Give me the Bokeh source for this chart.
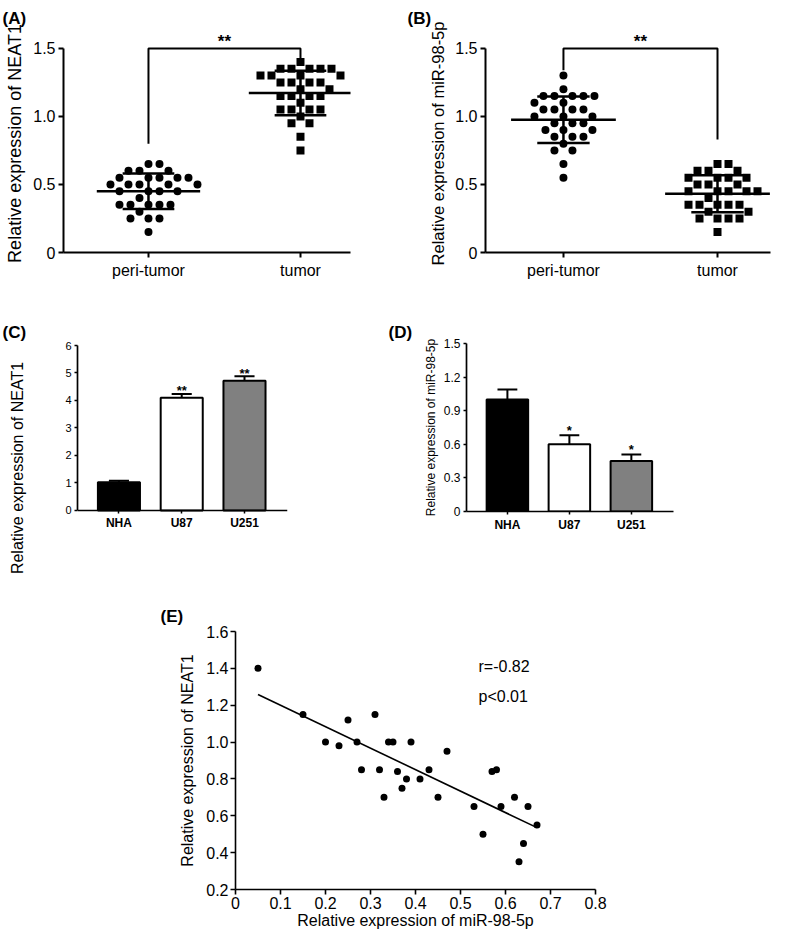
import numpy as np
from bokeh.plotting import figure
from bokeh.layouts import column, row
from bokeh.models import FixedTicker, Range1d, Title
from bokeh.core.properties import value
from bokeh.embed import file_html
from bokeh.resources import INLINE

FONT = "Liberation Sans"

# ---------------- data ----------------
groups_ab = ["peri-tumor", "tumor"]
a_peri = [0.65, 0.65, 0.60, 0.60, 0.60, 0.55, 0.55, 0.55, 0.55, 0.55,
          0.50, 0.50, 0.50, 0.50, 0.50, 0.45, 0.45, 0.45, 0.45, 0.40,
          0.35, 0.35, 0.35, 0.35, 0.35, 0.30, 0.25, 0.25, 0.25, 0.15]
a_tumor = [1.40, 1.35, 1.35, 1.35, 1.35, 1.35, 1.30, 1.30, 1.30, 1.30,
           1.25, 1.25, 1.25, 1.25, 1.20, 1.20, 1.15, 1.15, 1.15, 1.15,
           1.10, 1.05, 1.05, 1.05, 1.05, 1.00, 0.95, 0.95, 0.85, 0.75]
a_bracket = [0.80, 1.50, 1.42]
b_peri = [1.30, 1.20, 1.15, 1.15, 1.15, 1.15, 1.15, 1.10, 1.10, 1.05,
          1.05, 1.05, 1.05, 1.00, 1.00, 1.00, 0.95, 0.95, 0.95, 0.90,
          0.90, 0.90, 0.85, 0.85, 0.85, 0.80, 0.75, 0.75, 0.65, 0.55]
b_tumor = [0.65, 0.65, 0.60, 0.60, 0.60, 0.55, 0.55, 0.55, 0.55, 0.50,
           0.50, 0.50, 0.45, 0.45, 0.45, 0.45, 0.45, 0.40, 0.35, 0.35,
           0.35, 0.35, 0.35, 0.30, 0.30, 0.25, 0.25, 0.25, 0.25, 0.15]
b_bracket = [1.34, 1.50, 0.83]
sig_ab = "**"
ab_yticks = [0, 0.5, 1.0, 1.5]
ab_ytick_labels = ["0", "0.5", "1.0", "1.5"]

lines_cd = ["NHA", "U87", "U251"]
c_mean = [1.03, 4.10, 4.72]
c_err = [0.05, 0.14, 0.16]
c_sig = ["", "**", "**"]
c_yticks = [0, 1, 2, 3, 4, 5, 6]
d_mean = [1.00, 0.60, 0.45]
d_err = [0.09, 0.08, 0.06]
d_sig = ["", "*", "*"]
d_yticks = [0, 0.3, 0.6, 0.9, 1.2, 1.5]
d_ytick_labels = ["0", "0.3", "0.6", "0.9", "1.2", "1.5"]
bar_colors = ["#000000", "#ffffff", "#808080"]

e_mir = [0.05, 0.15, 0.20, 0.23, 0.25, 0.27, 0.28, 0.31, 0.32, 0.33,
         0.34, 0.35, 0.36, 0.37, 0.38, 0.39, 0.41, 0.43, 0.45, 0.47,
         0.53, 0.55, 0.57, 0.58, 0.59, 0.62, 0.63, 0.64, 0.65, 0.67]
e_neat = [1.40, 1.15, 1.00, 0.98, 1.12, 1.00, 0.85, 1.15, 0.85, 0.70,
          1.00, 1.00, 0.84, 0.75, 0.80, 1.00, 0.80, 0.85, 0.70, 0.95,
          0.65, 0.50, 0.84, 0.85, 0.65, 0.70, 0.35, 0.45, 0.65, 0.55]
e_xticks = [0, 0.1, 0.2, 0.3, 0.4, 0.5, 0.6, 0.7, 0.8]
e_xtick_labels = ["0", "0.1", "0.2", "0.3", "0.4", "0.5", "0.6", "0.7", "0.8"]
e_yticks = [0.2, 0.4, 0.6, 0.8, 1.0, 1.2, 1.4, 1.6]
e_ytick_labels = ["0.2", "0.4", "0.6", "0.8", "1.0", "1.2", "1.4", "1.6"]
e_stats = ["r=-0.82", "p<0.01"]


# ---------------- helpers ----------------
def base_fig(w, h, xr, yr, ml, mr, mt, mb):
    p = figure(width=w, height=h, x_range=Range1d(*xr), y_range=Range1d(*yr),
               output_backend="svg", toolbar_location=None,
               min_border_left=ml, min_border_right=mr,
               min_border_top=mt, min_border_bottom=mb)
    p.frame_align = False
    p.grid.grid_line_color = None
    p.outline_line_color = None
    p.background_fill_color = "white"
    p.border_fill_color = "white"
    p.axis.minor_tick_line_color = None
    p.axis.major_tick_in = 0
    p.axis.axis_line_color = "black"
    p.axis.major_tick_line_color = "black"
    p.axis.major_label_text_color = "black"
    p.axis.axis_label_text_color = "black"
    p.axis.major_label_text_font = FONT
    p.axis.axis_label_text_font = FONT
    p.axis.axis_label_text_font_style = "normal"
    return p


def panel_title(p, txt, offset, standoff):
    p.add_layout(Title(text=txt, align="left", offset=offset, standoff=standoff,
                       text_font=FONT, text_font_style="bold", text_font_size="17px",
                       text_color="black"), "above")


def swarm(vals, center, px_x, px_y, dmin):
    """Beeswarm layout: nearest non-overlapping horizontal offset (in pixels)."""
    placed = []
    xs = []
    for v in vals:
        yp = v * px_y
        chosen = 0.0
        for k in range(0, 400):
            found = False
            for sgn in ((1,) if k == 0 else (1, -1)):
                off = sgn * k * 0.5
                if all((off - qx) ** 2 + (yp - qy) ** 2 >= dmin ** 2 for qx, qy in placed):
                    chosen = off
                    found = True
                    break
            if found:
                break
        placed.append((chosen, yp))
        xs.append(center + chosen / px_x)
    return xs


def dot_panel(w, xr, ml, mr, peri, tumor, bracket, ylabel, ylabel_size, letter, toff):
    p = base_fig(w, 300, xr, (0, 1.602), ml, mr, 32, 48)
    px_x = (w - ml - mr) / (xr[1] - xr[0])
    px_y = 220 / 1.602
    p.scatter(swarm(peri, 0, px_x, px_y, 11), peri, marker="circle", size=8,
              fill_color="black", line_color=None)
    p.scatter(swarm(tumor, 1, px_x, px_y, 11), tumor, marker="square", size=8,
              fill_color="black", line_color=None)
    for c, vals in enumerate([peri, tumor]):
        m = float(np.mean(vals))
        sd = float(np.std(vals, ddof=1))
        p.segment(x0=[c - 0.34, c - 0.17, c - 0.17, c], y0=[m, m + sd, m - sd, m - sd],
                  x1=[c + 0.34, c + 0.17, c + 0.17, c], y1=[m, m + sd, m - sd, m + sd],
                  line_color="black", line_width=2.5)
    p.line(x=[0, 0, 1, 1], y=[bracket[0], bracket[1], bracket[1], bracket[2]],
           line_color="black", line_width=2)
    p.text(x=[0.5], y=[bracket[1]], text=[sig_ab], text_align="center",
           text_baseline="middle", text_font=value(FONT), text_font_style="bold",
           text_font_size="17px", text_color="black", y_offset=-7)
    p.xaxis.ticker = FixedTicker(ticks=[0, 1])
    p.xaxis.major_label_overrides = {i: g for i, g in enumerate(groups_ab)}
    p.yaxis.ticker = FixedTicker(ticks=ab_yticks)
    p.yaxis.major_label_overrides = dict(zip(ab_yticks, ab_ytick_labels))
    p.yaxis.bounds = (0, 1.5)
    p.axis.axis_line_width = 2
    p.axis.major_tick_line_width = 2
    p.axis.major_tick_out = 5
    p.axis.major_label_text_font_size = "16px"
    p.xaxis.major_label_standoff = 4
    p.yaxis.major_label_standoff = 3
    p.yaxis.axis_label = ylabel
    p.yaxis.axis_label_text_font_size = ylabel_size
    p.yaxis.axis_label_standoff = 5
    panel_title(p, letter, toff, 13)
    return p


# ---------------- panel A / B ----------------
pA = dot_panel(390, (-0.559, 1.329), 63, 40, a_peri, a_tumor, a_bracket,
               "Relative expression of NEAT1", "18px", "(A)", -61)
pB = dot_panel(390, (-0.506, 1.344), 95, 10, b_peri, b_tumor, b_bracket,
               "Relative expression of miR-98-5p", "16.5px", "(B)", -78)


# ---------------- bar panels ----------------
def bar_panel(w, h, xr, yr, ml, mr, mt, mb, means, errs, sigs, star_off):
    p = base_fig(w, h, xr, yr, ml, mr, mt, mb)
    xs = list(range(len(lines_cd)))
    tops = [m + e for m, e in zip(means, errs)]
    p.segment(x0=xs, y0=means, x1=xs, y1=tops, line_color="black", line_width=2)
    p.segment(x0=[x - 0.16 for x in xs], y0=tops, x1=[x + 0.16 for x in xs], y1=tops,
              line_color="black", line_width=2)
    p.vbar(x=xs, top=means, bottom=0, width=0.67, fill_color=bar_colors,
           line_color="black", line_width=2)
    p.text(x=xs, y=tops, text=sigs, text_align="center", text_baseline="middle",
           text_font=value(FONT), text_font_style="bold", text_font_size="13px",
           text_color="black", y_offset=star_off)
    p.xaxis.ticker = FixedTicker(ticks=xs)
    p.xaxis.major_label_overrides = {i: g for i, g in enumerate(lines_cd)}
    p.xaxis.major_label_text_font_style = "bold"
    p.xaxis.major_label_text_font_size = "12px"
    p.axis.axis_line_width = 1.7
    p.axis.major_tick_line_width = 1.5
    p.axis.major_tick_out = 3
    p.axis.major_label_standoff = 3
    return p


pC = bar_panel(385, 290, (-0.66, 2.685), (-2.91, 6.0), 77, 98, 45, 0,
               c_mean, c_err, c_sig, -3)
pC.xaxis.fixed_location = 0
pC.yaxis.bounds = (0, 6)
pC.yaxis.ticker = FixedTicker(ticks=c_yticks)
pC.yaxis.major_label_text_font_size = "11px"
pC.yaxis.axis_label = "Relative expression of NEAT1"
pC.yaxis.axis_label_text_font_size = "16px"
pC.yaxis.axis_label_standoff = 36
panel_title(pC, "(C)", -75, 8)

pD = bar_panel(395, 290, (-0.66, 2.68), (0, 1.5), 81, 107, 43, 79,
               d_mean, d_err, d_sig, -5)
pD.yaxis.ticker = FixedTicker(ticks=d_yticks)
pD.yaxis.major_label_overrides = dict(zip(d_yticks, d_ytick_labels))
pD.yaxis.major_label_text_font_size = "12px"
pD.yaxis.axis_label = "Relative expression of miR-98-5p"
pD.yaxis.axis_label_text_font_size = "12px"
pD.yaxis.axis_label_standoff = 3
panel_title(pD, "(D)", -78, 3)


# ---------------- panel E ----------------
pE = base_fig(780, 342, (0, 0.8), (0.2, 1.6), 235, 185, 41, 43)
pE.scatter(e_mir, e_neat, marker="circle", size=7, fill_color="black", line_color=None)
slope, icpt = np.polyfit(e_mir, e_neat, 1)
fx = [min(e_mir), max(e_mir)]
pE.line(x=fx, y=[slope * v + icpt for v in fx], line_color="black", line_width=1.6)
pE.text(x=[0.54, 0.54], y=[1.41, 1.245], text=e_stats, text_align="left",
        text_baseline="middle", text_font=value(FONT), text_font_size="16px",
        text_color="black")
pE.xaxis.ticker = FixedTicker(ticks=e_xticks)
pE.xaxis.major_label_overrides = dict(zip(e_xticks, e_xtick_labels))
pE.yaxis.ticker = FixedTicker(ticks=e_yticks)
pE.yaxis.major_label_overrides = dict(zip(e_yticks, e_ytick_labels))
pE.axis.axis_line_width = 1.6
pE.axis.major_tick_line_width = 1.6
pE.axis.major_tick_out = 5
pE.axis.major_label_text_font_size = "16px"
pE.axis.major_label_standoff = 2
pE.axis.axis_label_text_font_size = "16px"
pE.xaxis.axis_label = "Relative expression of miR-98-5p"
pE.yaxis.axis_label = "Relative expression of NEAT1"
pE.xaxis.axis_label_standoff = 0
pE.yaxis.axis_label_standoff = 7
panel_title(pE, "(E)", -75, 12)

layout = column(row(pA, pB), row(pC, pD), pE)
open("out.html", "w").write(file_html(layout, INLINE))
